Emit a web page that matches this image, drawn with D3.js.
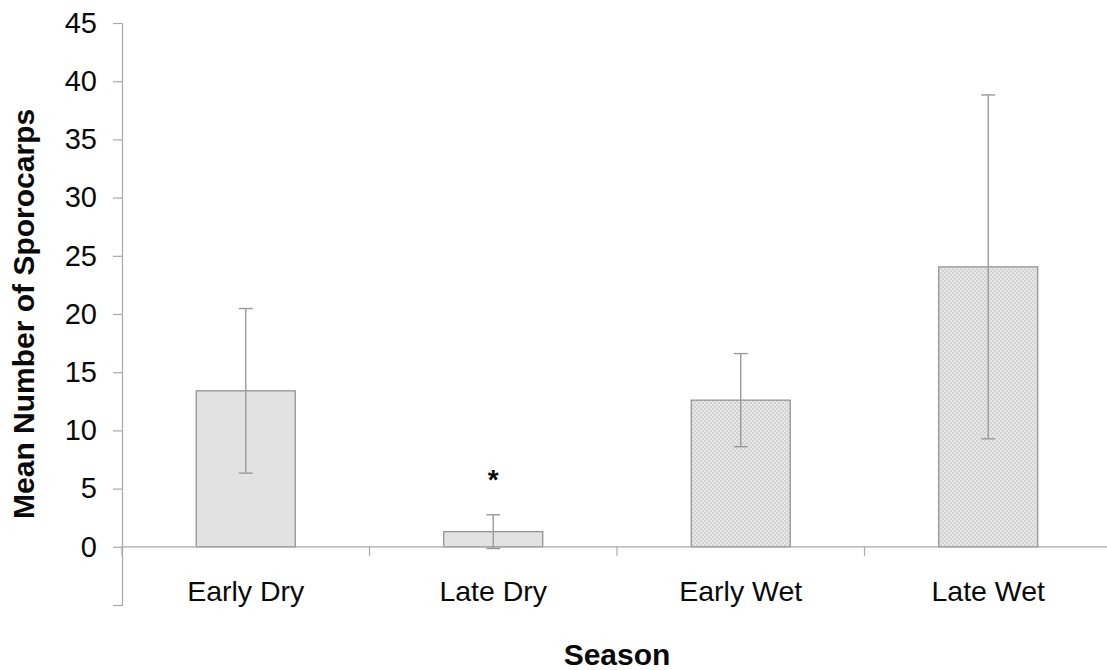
<!DOCTYPE html>
<html>
<head>
<meta charset="utf-8">
<script src="https://cdn.jsdelivr.net/npm/d3@7"></script>
<style>
  html, body { margin: 0; padding: 0; background: #fff; }
  svg { display: block; font-family: "Liberation Sans", Arial, sans-serif; }
</style>
</head>
<body>
<svg id="chart" width="1107" height="670"></svg>
<script>
const categories = ["Early Dry", "Late Dry", "Early Wet", "Late Wet"];
const means = [13.4, 1.3, 12.6, 24.05];
const errors = [7.07, 1.45, 4.0, 14.77];
const patterned = [false, false, true, true];
const yTicks = [-5, 0, 5, 10, 15, 20, 25, 30, 35, 40, 45];
const significance = ["", "*", "", ""];

const svg = d3.select("#chart");
const mLeft = 122, mRight = 1112, mTop = 23, mBottom = 605;

const x = d3.scaleBand().domain(categories).range([mLeft, mRight]).paddingInner(0.6).paddingOuter(0.3);
const y = d3.scaleLinear().domain([-5, 45]).range([mBottom, mTop]);

const defs = svg.append("defs");
const pat = defs.append("pattern").attr("id", "dots").attr("width", 4).attr("height", 4).attr("patternUnits", "userSpaceOnUse");
pat.append("rect").attr("width", 4).attr("height", 4).attr("fill", "#e7e7e7");
pat.append("rect").attr("width", 2).attr("height", 2).attr("fill", "#d3d3d3");
pat.append("rect").attr("x", 2).attr("y", 2).attr("width", 2).attr("height", 2).attr("fill", "#d3d3d3");

const data = categories.map((c, i) => ({ c, m: means[i], e: errors[i], p: patterned[i], s: significance[i] }));

// Y axis
const yAxis = d3.axisLeft(y).tickValues(yTicks).tickSize(9).tickPadding(16)
  .tickFormat(d => d < 0 ? "" : d);
const gy = svg.append("g").attr("transform", `translate(${mLeft},0)`).call(yAxis);
gy.select(".domain").attr("stroke", "#a8a8a8").attr("stroke-width", 1.2);
gy.selectAll(".tick line").attr("stroke", "#a8a8a8").attr("stroke-width", 1.2);
gy.selectAll(".tick text").attr("fill", "#0a0a0a").style("font-size", "29px").style("font-family", "Liberation Sans, Arial, sans-serif");

// Bars
svg.append("g").selectAll("rect").data(data).join("rect")
  .attr("x", d => x(d.c))
  .attr("width", x.bandwidth())
  .attr("y", d => y(d.m))
  .attr("height", d => y(0) - y(d.m))
  .attr("fill", d => d.p ? "url(#dots)" : "#e2e2e2")
  .attr("stroke", "#8c8c8c")
  .attr("stroke-width", 1.2);

// X axis at zero
const xTickPos = d3.range(categories.length + 1).map(i => mLeft + i * x.step());
const gx = svg.append("g");
gx.append("line").attr("x1", mLeft).attr("x2", mRight).attr("y1", y(0)).attr("y2", y(0))
  .attr("stroke", "#a8a8a8").attr("stroke-width", 1.2);
gx.selectAll("line.t").data(xTickPos).join("line").attr("class", "t")
  .attr("x1", d => d).attr("x2", d => d).attr("y1", y(0)).attr("y2", y(0) + 9)
  .attr("stroke", "#a8a8a8").attr("stroke-width", 1.2);
gx.selectAll("text").data(categories).join("text")
  .attr("x", d => x(d) + x.bandwidth() / 2)
  .attr("y", 601)
  .attr("text-anchor", "middle")
  .attr("fill", "#0a0a0a")
  .style("font-size", "28.5px")
  .text(d => d);

// Error bars
const eg = svg.append("g").attr("stroke", "#9a9a9a").attr("stroke-width", 1.4);
data.forEach(d => {
  const cx = x(d.c) + x.bandwidth() / 2;
  eg.append("line").attr("x1", cx).attr("x2", cx).attr("y1", y(d.m - d.e)).attr("y2", y(d.m + d.e));
  [d.m - d.e, d.m + d.e].forEach(v => {
    eg.append("line").attr("x1", cx - 7).attr("x2", cx + 7).attr("y1", y(v)).attr("y2", y(v));
  });
});

// Significance markers
svg.append("g").selectAll("text").data(data.filter(d => d.s)).join("text")
  .attr("x", d => x(d.c) + x.bandwidth() / 2)
  .attr("y", d => y(d.m + d.e) - 26)
  .attr("text-anchor", "middle")
  .attr("font-weight", "bold")
  .attr("fill", "#0a0a0a")
  .style("font-size", "28px")
  .text(d => d.s);

// Axis titles
svg.append("text")
  .attr("transform", `translate(34,${(y(0) + mTop) / 2 + 29}) rotate(-90)`)
  .attr("text-anchor", "middle")
  .attr("font-weight", "bold")
  .attr("fill", "#0a0a0a")
  .style("font-size", "30px")
  .text("Mean Number of Sporocarps");

svg.append("text")
  .attr("x", (mLeft + mRight) / 2)
  .attr("y", 665)
  .attr("text-anchor", "middle")
  .attr("font-weight", "bold")
  .attr("fill", "#0a0a0a")
  .style("font-size", "30px")
  .text("Season");
</script>
</body>
</html>
